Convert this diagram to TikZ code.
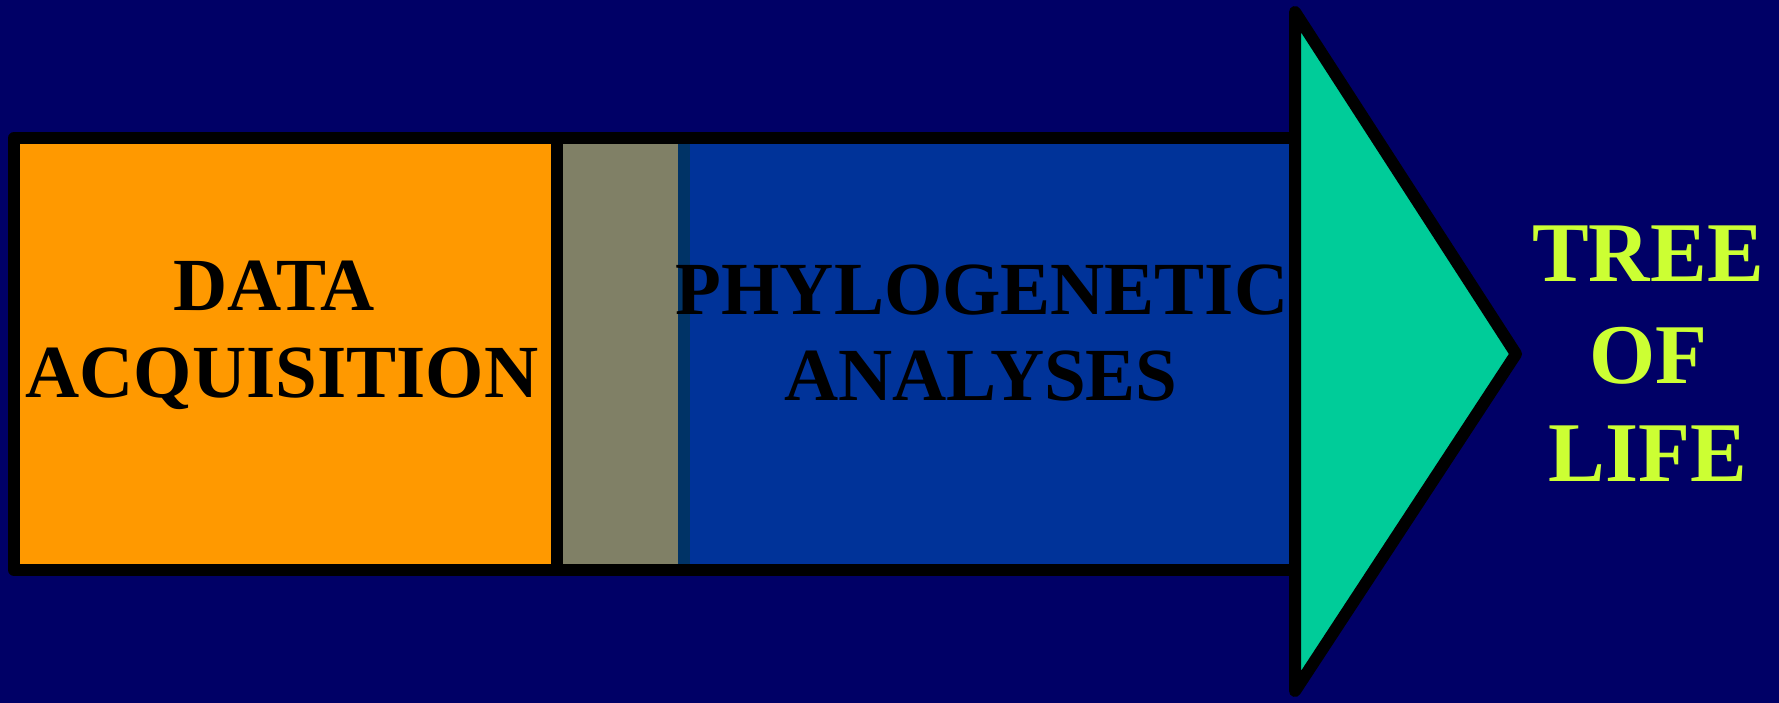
\documentclass[tikz,border=0pt]{standalone}
\usepackage{fontspec}
\setmainfont{Liberation Serif}
\definecolor{bgnavy}{HTML}{000066}
\definecolor{boxorange}{HTML}{FF9900}
\definecolor{boxgray}{HTML}{808066}
\definecolor{boxstrip}{HTML}{003366}
\definecolor{boxblue}{HTML}{003399}
\definecolor{arrowgreen}{HTML}{00CC99}
\definecolor{lifeyellow}{HTML}{CCFF33}
\tikzset{
  frameline/.style={draw=black, line width=12pt, line join=round},
  boxtext/.style={anchor=base, inner sep=0pt, font=\fontsize{75}{88}\selectfont\bfseries, text=black},
  lifetext/.style={anchor=base, inner sep=0pt, font=\fontsize{85}{100}\selectfont\bfseries, text=lifeyellow}
}
\begin{document}
\begin{tikzpicture}[x=1pt, y=-1pt]
  \fill[bgnavy] (0,0) rectangle (1779,703);
  \useasboundingbox (0,0) rectangle (1779,703);
  % fills
  \fill[boxorange] (14,138) rectangle (557,570);
  \fill[boxgray] (557,138) rectangle (678,570);
  \fill[boxstrip] (678,138) rectangle (690,570);
  \fill[boxblue] (690,138) rectangle (1295,570);
  % frame
  \draw[frameline] (14,138) rectangle (1295,570);
  \draw[draw=black, line width=12pt] (557,138) -- (557,570);
  % arrow head
  \draw[frameline, fill=arrowgreen] (1295,12) -- (1516,354) -- (1295,691) -- cycle;
  % texts
  \node[boxtext] (d1) at (274,310) {DATA};
  \node[boxtext] (d2) at (282,397) {ACQUISITION};
  \node[boxtext] (p1) at (982,314) {PHYLOGENETIC};
  \node[boxtext] (p2) at (981,400) {ANALYSES};
  \node[lifetext] (t1) at (1648,281) {TREE};
  \node[lifetext] (t2) at (1648,383) {OF};
  \node[lifetext] (t3) at (1648,481) {LIFE};
\end{tikzpicture}
\end{document}
